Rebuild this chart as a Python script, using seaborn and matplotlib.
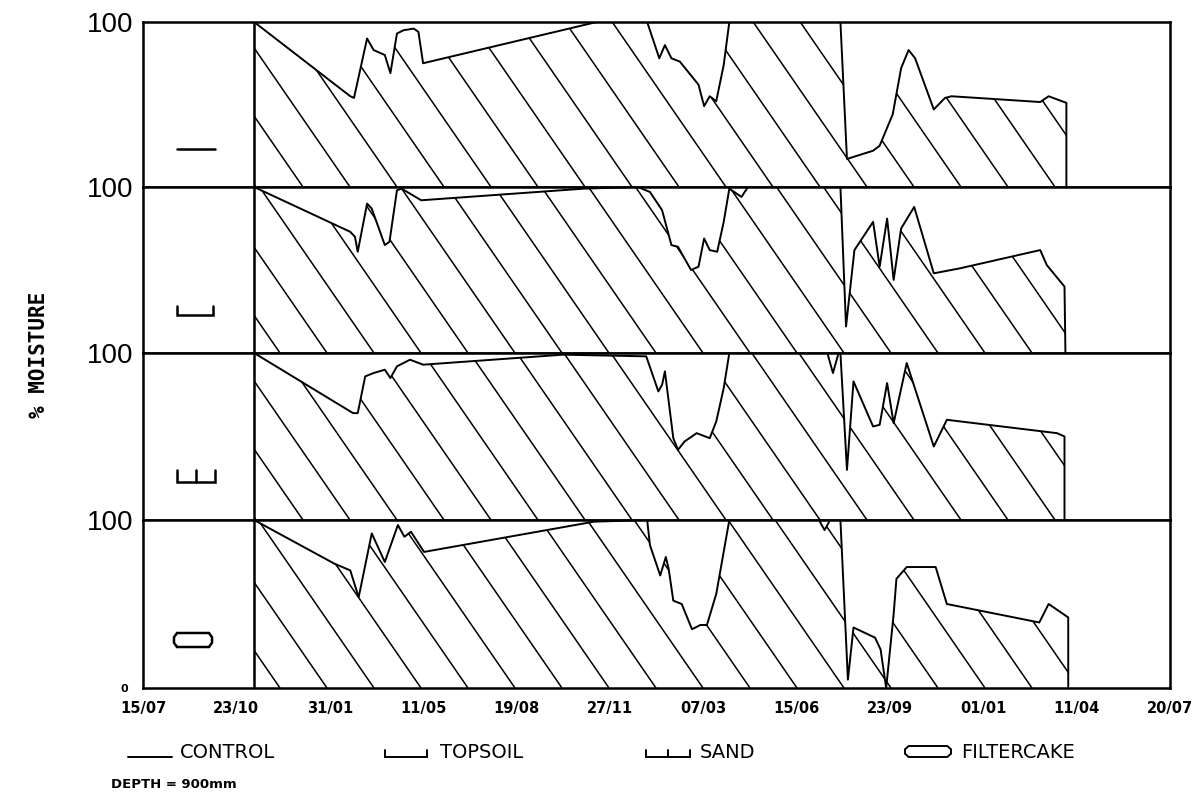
import numpy as np
import pandas as pd
import matplotlib
matplotlib.use("Agg")
import matplotlib.pyplot as plt
from matplotlib.collections import LineCollection
from matplotlib.lines import Line2D
import seaborn as sns

# ---------------- data ----------------
tick_days = [0, 100, 200, 300, 400, 500, 600, 700, 800, 900, 1000, 1100]
tick_labels = ["15/07", "23/10", "31/01", "11/05", "19/08", "27/11",
               "07/03", "15/06", "23/09", "01/01", "11/04", "20/07"]

series_names = ["CONTROL", "TOPSOIL", "SAND", "FILTERCAKE"]

control_days = [119, 222, 226, 240, 247, 259, 265, 272, 279, 290, 295, 300, 486,
                540, 553, 559, 566, 575, 595, 601, 607, 614, 622, 628, 747, 754,
                782, 789, 803, 812, 820, 827, 847, 859, 866, 961, 970, 989, 989]
control_moist = [100, 55, 54, 90, 83, 80, 69, 93, 95, 96, 94, 75, 100,
                 100, 78, 86, 78, 76, 62, 49, 55, 52, 74, 100, 100, 17,
                 22, 25, 44, 72, 83, 78, 47, 54, 55, 51.5, 55, 51, 0]

topsoil_days = [119, 222, 227, 230, 240, 245, 259, 264, 272, 277, 298, 472, 530,
                543, 556, 566, 573, 587, 595, 601, 607, 615, 622, 628, 641, 648,
                747, 753, 762, 782, 789, 797, 804, 812, 826, 847, 875, 961, 968,
                987, 988]
topsoil_moist = [100, 73, 70, 61, 90, 87, 65, 67, 98, 99, 92, 99, 100,
                 97, 86, 65, 64, 50, 52, 69, 62, 61, 79, 99, 94, 100,
                 100, 16, 62, 79, 52, 81, 44, 75, 88, 48, 51, 62, 53,
                 40, 0]

sand_days = [119, 225, 230, 238, 247, 259, 265, 272, 286, 300, 450, 539, 552,
             556, 559, 568, 573, 580, 593, 607, 614, 622, 628, 733, 739, 745,
             747, 754, 761, 782, 789, 797, 804, 818, 847, 861, 979, 987, 987]
sand_moist = [100, 64, 64, 86, 88, 90, 85, 92, 96, 93, 99, 98, 77,
              81, 89, 49, 42, 47, 52, 49, 59, 79, 100, 100, 88, 100,
              100, 30, 83, 56, 57, 82, 58, 94, 44, 60, 52, 50, 0]

filtercake_days = [119, 205, 222, 231, 245, 259, 273, 280, 287, 301, 483, 540,
                   543, 554, 560, 563, 568, 577, 588, 597, 604, 614, 628, 724,
                   730, 736, 747, 755, 761, 784, 790, 796, 804, 807, 818, 849,
                   861, 960, 970, 991, 991]
filtercake_moist = [100, 74, 70, 54, 92, 75, 97, 90, 93, 81, 99, 100,
                    85, 67, 78, 71, 52, 50, 35, 37.5, 37.5, 56, 100, 100,
                    94, 100, 100, 5, 36, 30, 23, 0, 44, 65, 72, 72,
                    50, 39, 50, 42, 0]

panel_days = [control_days, topsoil_days, sand_days, filtercake_days]
panel_moist = [control_moist, topsoil_moist, sand_moist, filtercake_moist]

# ---------------- style ----------------
sns.set_theme(style="white")
plt.rcParams["font.family"] = ["DejaVu Sans"]
plt.rcParams["text.color"] = "black"
plt.rcParams["xtick.color"] = "black"
plt.rcParams["ytick.color"] = "black"
plt.rcParams["axes.edgecolor"] = "black"

W, H = 1202, 796
fig = plt.figure(figsize=(W / 100, H / 100), dpi=100)
fig.patch.set_facecolor("white")

X0, X1 = 143, 1170
EDGES = [22, 187, 353, 520, 688]
XMAX = 1100

HATCH_SLOPE = 1.45   # pixel rise per pixel run
HATCH_GAP = 47       # horizontal pixel spacing
HATCH_PHASE = [19, 43, 19, 43]


def fx(x):
    return x / W


def fy(y):
    return 1 - y / H


def symbol_lines(kind):
    """Unit-square outline pieces for each series' line-pattern symbol."""
    if kind == "CONTROL":
        return [[(0, 0), (1, 0)]]
    if kind == "TOPSOIL":
        return [[(0, 1), (0, 0), (1, 0), (1, 1)]]
    if kind == "SAND":
        return [[(0, 1), (0, 0), (1, 0), (1, 1)], [(0.5, 0), (0.5, 1)]]
    return [[(0.08, 0), (0.92, 0), (1, 0.3), (1, 0.7), (0.92, 1), (0.08, 1),
             (0, 0.7), (0, 0.3), (0.08, 0)]]


def draw_symbol(kind, x0, x1, yb, yt, lw=1.6):
    """Draw in figure pixel space."""
    for piece in symbol_lines(kind):
        xs = [fx(x0 + px * (x1 - x0)) for px, py in piece]
        ys = [fy(yb - py * (yb - yt)) for px, py in piece]
        fig.add_artist(Line2D(xs, ys, color="black", lw=lw,
                              transform=fig.transFigure, solid_joinstyle="miter"))


# in-panel symbol placement (pixels): x range, bottom y, top y
panel_symbols = [(177, 215, 149, 149), (177, 213, 315, 306),
                 (177, 215, 482, 470), (174, 212, 647, 633)]

axes = []
for i in range(4):
    ytop, ybot = EDGES[i], EDGES[i + 1]
    ax = fig.add_axes([fx(X0), fy(ybot), (X1 - X0) / W, (ybot - ytop) / H])
    ax.set_facecolor("white")
    days = panel_days[i]
    moist = panel_moist[i]
    w_px = X1 - X0
    h_px = ybot - ytop

    # hatched area under the curve
    poly = ax.fill_between(days, moist, 0, facecolor="none", edgecolor="none", linewidth=0)
    clip = poly.get_paths()[0]
    ppd = w_px / XMAX
    shift = (h_px / HATCH_SLOPE) / ppd
    bottoms = np.arange(HATCH_PHASE[i], w_px + h_px / HATCH_SLOPE + HATCH_GAP, HATCH_GAP) / ppd
    segs = [[(b, 0), (b - shift, 100)] for b in bottoms]
    lc = LineCollection(segs, colors="black", linewidths=1.1)
    ax.add_collection(lc, autolim=False)
    lc.set_clip_path(clip, ax.transData)

    df = pd.DataFrame({"day": days, "moisture": moist})
    sns.lineplot(data=df, x="day", y="moisture", ax=ax, sort=False,
                 estimator=None, color="black", linewidth=1.4)
    ax.axvline(days[0], color="black", lw=1.8)

    ax.set_xlim(0, XMAX)
    ax.set_ylim(0, 100)
    ax.set_xlabel("")
    ax.set_ylabel("")
    for sp in ax.spines.values():
        sp.set_linewidth(1.8)
        sp.set_color("black")

    ax.set_xticks(tick_days)
    if i < 3:
        ax.set_yticks([100])
        ax.set_yticklabels(["100"], fontfamily="Liberation Sans", fontsize=20)
        ax.tick_params(axis="x", bottom=False, labelbottom=False)
    else:
        ax.set_yticks([0, 100])
        ax.set_yticklabels(["0", "100"], fontfamily="Liberation Sans", fontsize=20)
        ax.set_xticklabels(tick_labels, fontsize=10.5, fontweight="bold")
        ax.tick_params(axis="x", direction="in", length=7, width=1.3, pad=9)
    ax.tick_params(axis="y", length=0, pad=7)
    if i == 3:
        t0 = ax.yaxis.get_major_ticks()[0]
        t0.label1.set_fontsize(8)
        t0.label1.set_fontfamily("DejaVu Sans")
        t0.label1.set_fontweight("bold")
        t0.set_pad(11)
    axes.append(ax)

    sx0, sx1, syb, syt = panel_symbols[i]
    draw_symbol(series_names[i], sx0, sx1, syb, syt, lw=1.8)

# y label
fig.text(fx(39), fy(355), "% MOISTURE", rotation=90, ha="center", va="center",
         fontfamily="DejaVu Sans Mono", fontweight="bold", fontsize=15)

# bottom legend
legend_items = [(128, 172, 757, 757, 180), (385, 427, 757, 750, 440),
                (646, 690, 757, 750, 700), (905, 951, 757, 746, 961)]
for name, (lx0, lx1, lyb, lyt, tx) in zip(series_names, legend_items):
    draw_symbol(name, lx0, lx1, lyb, lyt, lw=1.4)
    fig.text(fx(tx), fy(753), name, ha="left", va="center", fontsize=14)

fig.text(fx(111), fy(784), "DEPTH = 900mm", ha="left", va="center",
         fontsize=9.5, fontweight="bold")

fig.savefig("out.png", dpi=100, facecolor="white")
